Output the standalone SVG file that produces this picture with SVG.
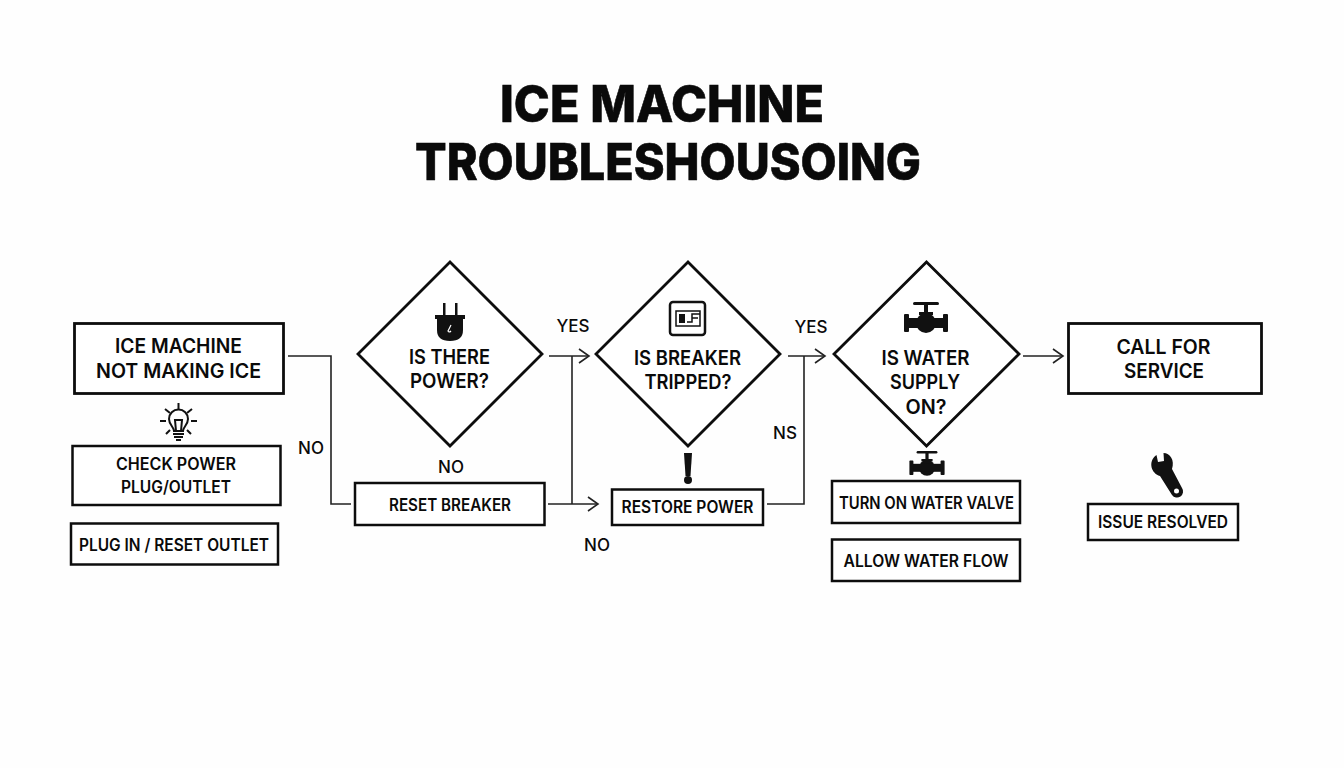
<svg xmlns="http://www.w3.org/2000/svg" width="1344" height="768" viewBox="0 0 1344 768">
<style>
.n{fill:#fff;stroke:#0d0d0d;stroke-width:2.800}
.n2{fill:#fff;stroke:#0d0d0d;stroke-width:2.500}
text{font-family:"Inter","Liberation Sans",sans-serif;font-weight:600;fill:#0a0a0a;text-anchor:middle}
.t{font-size:51px;font-weight:800;stroke:#0a0a0a;stroke-width:.6}
.a{font-size:20px}
.b{font-size:17px}
.l{font-size:17px;font-weight:500}
.c{fill:none;stroke:#222;stroke-width:1.600}
.i{fill:#111;stroke:none}
.s{fill:none;stroke:#111;stroke-width:2}
</style>
<defs>
<marker id="arr" markerWidth="14" markerHeight="16" refX="12" refY="8" orient="auto" markerUnits="userSpaceOnUse"><path d="M2 1L12 8L2 15" fill="none" stroke="#222" stroke-width="1.600"/></marker>
<g id="valve">
<rect x="-13" y="-15" width="26" height="3" rx="1.500" class="i"/>
<rect x="-2" y="-14" width="4" height="10" class="i"/>
<rect x="-7" y="-5" width="14" height="3" class="i"/>
<circle cx="0" cy="6" r="10" class="i"/>
<rect x="-19" y="1" width="38" height="10" class="i"/>
<rect x="-22" y="-3" width="5" height="18" rx="1" class="i"/>
<rect x="17" y="-3" width="5" height="18" rx="1" class="i"/>
</g>
</defs>
<rect width="1344" height="768" fill="#fefefe"/>
<g id="title">
<text class="t" x="662" y="122" textLength="324" lengthAdjust="spacingAndGlyphs">ICE MACHINE</text>
<text class="t" x="668" y="180" textLength="506" lengthAdjust="spacingAndGlyphs">TROUBLESHOUSOING</text>
</g>
<g id="connectors">
<path class="c" d="M288 356H331V504H351"/>
<path class="c" d="M549 356H589" marker-end="url(#arr)"/>
<path class="c" d="M572 356V504"/>
<path class="c" d="M548 504H598" marker-end="url(#arr)"/>
<path class="c" d="M767 504H804V356"/>
<path class="c" d="M788 356H825" marker-end="url(#arr)"/>
<path class="c" d="M1023 356H1063" marker-end="url(#arr)"/>
</g>
<g id="node-start">
<rect class="n" x="74.500" y="323.500" width="209" height="70"/>
<text class="a" x="178.500" y="353" textLength="127" lengthAdjust="spacingAndGlyphs">ICE MACHINE</text>
<text class="a" x="178.500" y="378" textLength="165" lengthAdjust="spacingAndGlyphs">NOT MAKING ICE</text>
</g>
<g id="icon-bulb">
<path class="s" d="M174 431C174 427 169 425 169 419A9.500 9.500 0 1 1 188 419C188 425 183 427 183 431Z"/>
<path class="s" stroke-width="1.500" d="M176 431L175 420H182L181 431"/>
<path class="s" d="M173 434H184M174 437H183M176 440H181"/>
<path class="s" d="M178.500 403V410M165 409L170 413M192 409L187 413M160 421H166M191 421H197M166 434L170 430M191 434L187 430"/>
</g>
<g id="node-check">
<rect class="n2" x="72.500" y="446" width="208" height="59"/>
<text class="b" x="176" y="470" textLength="120" lengthAdjust="spacingAndGlyphs">CHECK POWER</text>
<text class="b" x="176" y="493" textLength="110" lengthAdjust="spacingAndGlyphs">PLUG/OUTLET</text>
</g>
<g id="node-plug">
<rect class="n2" x="71" y="523.500" width="207" height="41"/>
<text class="b" x="174" y="551" textLength="190" lengthAdjust="spacingAndGlyphs">PLUG IN / RESET OUTLET</text>
</g>
<g id="node-d1">
<polygon class="n" points="450,262 542,354 450,446 358,354"/>
<rect class="i" x="443" y="303" width="2.500" height="13"/>
<rect class="i" x="455" y="303" width="2.500" height="13"/>
<path class="i" d="M435 315H465V319H463V330Q463 341 450 341Q437 341 437 330V319H435Z"/>
<path d="M451 325L448 331Q449 333 451 331" fill="none" stroke="#fff" stroke-width="1.200"/>
<text class="a" x="449.500" y="364" textLength="81" lengthAdjust="spacingAndGlyphs">IS THERE</text>
<text class="a" x="449.500" y="388" textLength="79" lengthAdjust="spacingAndGlyphs">POWER?</text>
</g>
<g id="node-reset">
<rect class="n2" x="355" y="483" width="189.500" height="42"/>
<text class="b" x="450" y="511" textLength="122" lengthAdjust="spacingAndGlyphs">RESET BREAKER</text>
</g>
<g id="node-d2">
<polygon class="n" points="688,262 780,354 688,446 596,354"/>
<rect x="670" y="302" width="35" height="33" rx="3" fill="none" stroke="#111" stroke-width="2.500"/>
<rect x="676" y="311" width="24" height="15" fill="none" stroke="#111" stroke-width="1.500"/>
<rect class="i" x="679" y="314" width="6" height="9"/>
<path d="M687 322H692V314H700M692 318H698" fill="none" stroke="#111" stroke-width="1.500"/>
<text class="a" x="687.500" y="365" textLength="107" lengthAdjust="spacingAndGlyphs">IS BREAKER</text>
<text class="a" x="688" y="389" textLength="87" lengthAdjust="spacingAndGlyphs">TRIPPED?</text>
</g>
<g id="icon-alert">
<path class="i" d="M684 453H692L690.500 476H685.500Z"/>
<circle class="i" cx="688" cy="480" r="4"/>
</g>
<g id="node-restore">
<rect class="n2" x="612" y="489.500" width="151" height="35.500"/>
<text class="b" x="687.500" y="513" textLength="132" lengthAdjust="spacingAndGlyphs">RESTORE POWER</text>
</g>
<g id="node-d3">
<polygon class="n" points="926.500,262 1019,354 926.500,446 834,354"/>
<use href="#valve" x="926" y="317"/>
<text class="a" x="925.500" y="365" textLength="88" lengthAdjust="spacingAndGlyphs">IS WATER</text>
<text class="a" x="925" y="389" textLength="70" lengthAdjust="spacingAndGlyphs">SUPPLY</text>
<text class="a" x="926" y="414" textLength="41" lengthAdjust="spacingAndGlyphs">ON?</text>
</g>
<g id="icon-valve2" transform="translate(927 463) scale(.8)"><use href="#valve"/></g>
<g id="node-turn">
<rect class="n2" x="832" y="481" width="188" height="42"/>
<text class="b" x="926.500" y="509" textLength="175" lengthAdjust="spacingAndGlyphs">TURN ON WATER VALVE</text>
</g>
<g id="node-allow">
<rect class="n2" x="832" y="539.500" width="188" height="41.500"/>
<text class="b" x="926" y="567" textLength="165" lengthAdjust="spacingAndGlyphs">ALLOW WATER FLOW</text>
</g>
<g id="node-call">
<rect class="n" x="1068.500" y="323.500" width="193" height="70"/>
<text class="a" x="1163.500" y="354" textLength="94" lengthAdjust="spacingAndGlyphs">CALL FOR</text>
<text class="a" x="1164" y="378" textLength="80" lengthAdjust="spacingAndGlyphs">SERVICE</text>
</g>
<g id="icon-wrench">
<path class="i" d="M1156.500 455L1158 462L1164 461L1163.500 453C1170 453 1175 460 1172 469L1182 488A5.800 5.800 0 0 1 1172 495L1160 476C1152 474 1147 462 1156.500 455Z"/>
<circle cx="1176.500" cy="491" r="2.500" fill="#fff"/>
</g>
<g id="node-issue">
<rect class="n2" x="1088" y="504" width="150" height="36"/>
<text class="b" x="1163" y="528" textLength="130" lengthAdjust="spacingAndGlyphs">ISSUE RESOLVED</text>
</g>
<g id="labels">
<text class="l" x="311" y="454">NO</text>
<text class="l" x="451" y="473">NO</text>
<text class="l" x="573" y="332">YES</text>
<text class="l" x="811" y="333">YES</text>
<text class="l" x="785" y="439">NS</text>
<text class="l" x="597" y="551">NO</text>
</g>
</svg>
